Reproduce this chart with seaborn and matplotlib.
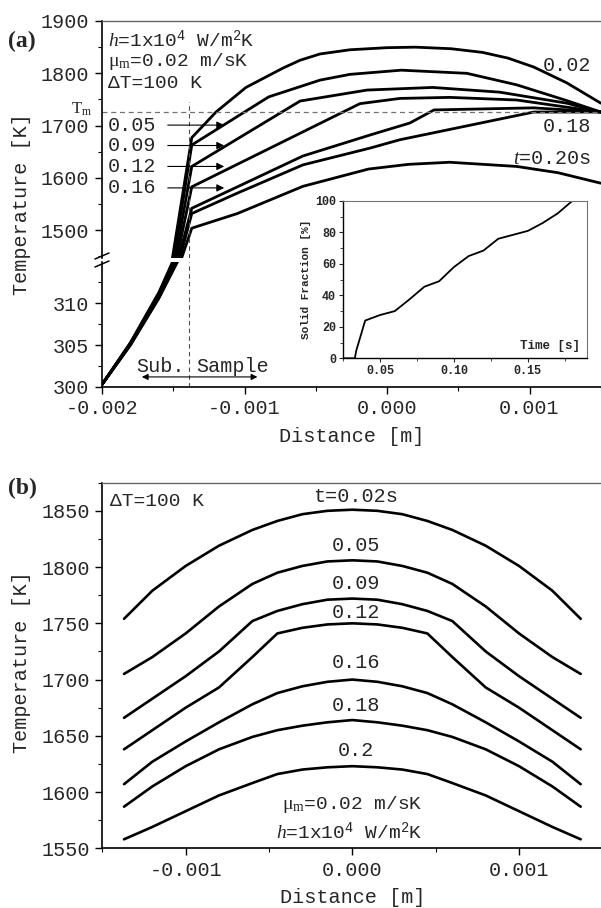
import matplotlib
matplotlib.use("Agg")
import matplotlib.pyplot as plt
from matplotlib.lines import Line2D
from matplotlib.ticker import MultipleLocator, FormatStrFormatter
import seaborn as sns

# ---------------- panel (a): temperature along the sample ----------------
times_a = ['0.02', '0.05', '0.09', '0.12', '0.16', '0.18', '0.20']

# substrate part (lower section of the broken axis)
sub_x = [-0.002, -0.0018, -0.0016, -0.00145]
sub_T = {
    '0.02': [300.3, 305.3, 311.3, 317.0],
    '0.05': [300.3, 305.25, 311.2, 316.8],
    '0.09': [300.3, 305.2, 311.05, 316.5],
    '0.12': [300.3, 305.15, 310.95, 316.3],
    '0.16': [300.3, 305.1, 310.8, 316.0],
    '0.18': [300.3, 305.05, 310.7, 315.8],
    '0.20': [300.3, 305.0, 310.6, 315.6],
}

# sample part (upper section)
samp_x = {
    '0.02': [-0.00151, -0.00137, -0.0012, -0.00099, -0.00073, -0.00061, -0.00047,
             -0.00026, 0.0, 0.0002, 0.00045, 0.00067, 0.00085, 0.00103, 0.00126, 0.0015],
    '0.05': [-0.0015, -0.00137, -0.00083, -0.00047, -0.00026, 0.0001, 0.00056,
             0.00091, 0.00126, 0.0015],
    '0.09': [-0.00149, -0.00137, -0.00061, -0.00014, 0.00032, 0.00079, 0.00126, 0.0015],
    '0.12': [-0.00148, -0.00137, -0.00019, 0.00009, 0.00044, 0.00091, 0.0015],
    '0.16': [-0.00147, -0.00137, -0.00105, -0.00059, -0.00012, 0.00016, 0.00033,
             0.00103, 0.0015],
    '0.18': [-0.00146, -0.00137, -0.00105, -0.00059, -0.00012, 0.00009, 0.00103, 0.0015],
    '0.20': [-0.00145, -0.00137, -0.00105, -0.00059, -0.00013, 0.00015, 0.00044,
             0.00091, 0.0012, 0.0015],
}
samp_T = {
    '0.02': [1440, 1677, 1726, 1773, 1810, 1825, 1837, 1845, 1849, 1850, 1847, 1840,
             1829, 1812, 1782, 1743],
    '0.05': [1440, 1663, 1755, 1787, 1798, 1806, 1800, 1778, 1748, 1726],
    '0.09': [1440, 1622, 1747, 1768, 1773, 1764, 1743, 1726],
    '0.12': [1440, 1583, 1742, 1752, 1754, 1749, 1726],
    '0.16': [1440, 1542, 1583, 1642, 1682, 1705, 1730, 1734, 1726],
    '0.18': [1440, 1532, 1571, 1625, 1657, 1673, 1726, 1726],
    '0.20': [1440, 1504, 1532, 1584, 1617, 1626, 1630, 1622, 1610, 1590],
}

# inset: solid fraction vs time
sf_time = [0.025, 0.033, 0.034, 0.04, 0.05, 0.06, 0.07, 0.08, 0.09, 0.10,
           0.11, 0.12, 0.13, 0.14, 0.15, 0.16, 0.17, 0.18]
sf_val = [0, 0, 5, 24, 27.5, 30, 37.5, 45.5, 49, 58, 65, 68.5, 76, 78.5, 81, 86, 92, 100]
sf_xticks = [0.05, 0.10, 0.15]
sf_xlabels = ['0.05', '0.10', '0.15']
sf_yticks = [0, 20, 40, 60, 80, 100]
sf_ylabels = ['0', '20', '40', '60', '80', '100']

# ---------------- panel (b): symmetric profiles ----------------
labels_b = ['t=0.02s', '0.05', '0.09', '0.12', '0.16', '0.18', '0.2']
dist_b = [-0.00137, -0.0012, -0.001, -0.0008, -0.0006, -0.00045, -0.0003, -0.00015, 0.0,
          0.00015, 0.0003, 0.00045, 0.0006, 0.0008, 0.001, 0.0012, 0.00137]
temp_b = [
    [1754, 1779, 1801, 1819, 1833, 1841, 1847, 1850, 1851, 1850, 1847, 1841, 1833, 1819, 1801, 1779, 1754],
    [1705, 1720, 1741, 1765, 1785, 1795, 1801, 1805, 1806, 1805, 1801, 1795, 1785, 1765, 1741, 1720, 1705],
    [1666, 1683, 1703, 1725, 1752, 1761, 1767, 1771, 1772, 1771, 1767, 1761, 1752, 1725, 1703, 1683, 1666],
    [1638, 1655, 1675, 1693, 1720, 1741, 1746, 1749, 1750, 1749, 1746, 1741, 1720, 1693, 1675, 1655, 1638],
    [1607, 1627, 1645, 1662, 1678, 1688, 1694, 1698, 1700, 1698, 1694, 1688, 1678, 1662, 1645, 1627, 1607],
    [1587, 1605, 1623, 1638, 1649, 1655, 1659, 1662, 1664, 1662, 1659, 1655, 1649, 1638, 1623, 1605, 1587],
    [1558, 1569, 1583, 1597, 1608, 1616, 1620, 1622, 1623, 1622, 1620, 1616, 1608, 1597, 1583, 1569, 1558],
]

sns.set_style("ticks")
plt.rcParams.update({
    'font.family': ['Liberation Mono', 'DejaVu Sans'],
    'font.size': 14.5,
    'axes.unicode_minus': False,
    'mathtext.fontset': 'custom',
    'mathtext.rm': 'Liberation Mono',
    'mathtext.it': 'Liberation Serif:italic',
    'mathtext.sf': 'Liberation Serif',
    'mathtext.bf': 'Liberation Mono:bold',
    'xtick.labelsize': 14.5,
    'ytick.labelsize': 14.5,
})

fig = plt.figure(figsize=(6.01, 9.08), dpi=100)
W, H = 601.0, 908.0


def frame(ax, top=True, bottom=True):
    ax.set_facecolor('none')
    ax.spines['right'].set_visible(False)
    ax.spines['top'].set_visible(top)
    ax.spines['top'].set_color('0.4')
    ax.spines['top'].set_linewidth(1.0)
    ax.spines['bottom'].set_visible(bottom)
    for s in ('left', 'bottom'):
        ax.spines[s].set_color('black')
        ax.spines[s].set_linewidth(1.2)
    ax.tick_params(which='major', direction='out', length=5, width=1, pad=4, color='black')
    ax.tick_params(which='minor', direction='out', length=3, width=0.8, color='black')
    ax.tick_params(axis='both', which='both', top=False, right=False)


lw = 2.0

# ---- panel (a) upper section
ax_up = fig.add_axes([102 / W, 1 - 258 / H, 498.75 / W, 237 / H])
frame(ax_up, top=True, bottom=False)
for t in times_a:
    sns.lineplot(x=samp_x[t], y=samp_T[t], ax=ax_up, color='black', linewidth=lw,
                 estimator=None, sort=False)
ax_up.set_xlim(-0.002, 0.0015)
ax_up.set_ylim(1447, 1900)
ax_up.yaxis.set_major_locator(MultipleLocator(100))
ax_up.yaxis.set_minor_locator(MultipleLocator(50))
ax_up.tick_params(axis='x', which='both', bottom=False, labelbottom=False)
ax_up.set_xlabel('')
ax_up.set_ylabel('')
ax_up.axhline(1726, color='0.45', lw=0.9, ls=(0, (4, 3)))
ax_up.plot([-0.00139, -0.00139], [1447, 1745], color='0.3', lw=0.8, ls=(0, (4, 3)))
ax_up.text(-0.00207, 1732, r'$\mathsf{T_m}$', ha='right', va='center', fontsize=12)

ax_up.text(-0.001958, 1864, r'$h$=1x10$^4$ W/m$^2$K', va='center', fontsize=14)
ax_up.text(-0.001958, 1822, r'$\mathsf{\mu_m}$=0.02 m/sK', va='center', fontsize=14)
ax_up.text(-0.001958, 1781, 'ΔT=100 K', va='center', fontsize=14)

for lab, T in zip(['0.05', '0.09', '0.12', '0.16'], [1701, 1662, 1622, 1581]):
    ax_up.text(-0.001958, T, lab, va='center', fontsize=14.5)
    ax_up.annotate('', xy=(-0.001123, T), xytext=(-0.001558, T),
                   arrowprops=dict(arrowstyle='-|>', color='black', lw=0.8,
                                   mutation_scale=11))
ax_up.text(0.00109, 1814, '0.02', va='center', fontsize=14.5)
ax_up.text(0.00109, 1699, '0.18', va='center', fontsize=14.5)
ax_up.text(0.000884, 1638, r'$t$=0.20s', va='center', fontsize=14.5)

# ---- panel (a) lower section
ax_lo = fig.add_axes([102 / W, 1 - 387 / H, 498.75 / W, 125 / H])
frame(ax_lo, top=False, bottom=True)
for t in times_a:
    sns.lineplot(x=sub_x, y=sub_T[t], ax=ax_lo, color='black', linewidth=lw,
                 estimator=None, sort=False)
ax_lo.set_xlim(-0.002, 0.0015)
ax_lo.set_ylim(300, 314.9)
ax_lo.yaxis.set_major_locator(MultipleLocator(5))
ax_lo.yaxis.set_minor_locator(MultipleLocator(2.5))
ax_lo.xaxis.set_major_locator(MultipleLocator(0.001))
ax_lo.xaxis.set_minor_locator(MultipleLocator(0.0005))
ax_lo.xaxis.set_major_formatter(FormatStrFormatter('%.3f'))
ax_lo.set_ylabel('')
ax_lo.set_xlabel('Distance [m]', fontsize=14.5, labelpad=6)
ax_lo.axvline(-0.00139, color='0.3', lw=0.8, ls=(0, (4, 3)))
ax_lo.text(-0.00142, 302.4, 'Sub.', ha='right', va='center', fontsize=14.5)
ax_lo.text(-0.00134, 302.4, 'Sample', ha='left', va='center', fontsize=14.5)
ax_lo.annotate('', xy=(-0.00174, 301.2), xytext=(-0.00089, 301.2),
               arrowprops=dict(arrowstyle='<|-|>', color='black', lw=0.8,
                               mutation_scale=9))

# break marks on the y axis
for yc in (256, 264):
    fig.add_artist(Line2D([95 / W, 109 / W], [1 - (yc + 3) / H, 1 - (yc - 3) / H],
                          transform=fig.transFigure, color='black', lw=1.1))

fig.text(22 / W, 1 - 204 / H, 'Temperature [K]', rotation=90, ha='center', va='center',
         fontsize=14.5)
fig.text(8 / W, 1 - 41 / H, '(a)', family='Liberation Serif', fontweight='bold',
         fontsize=17, va='center')

# ---- inset
ax_in = fig.add_axes([343 / W, 1 - 358.3 / H, 244 / W, 157.3 / H])
ax_in.set_facecolor('white')
sns.lineplot(x=sf_time, y=sf_val, ax=ax_in, color='black', linewidth=1.3,
             estimator=None, sort=False)
ax_in.set_xlim(0.025, 0.19)
ax_in.set_ylim(0, 100)
ax_in.set_xticks(sf_xticks, sf_xlabels, fontsize=8.5, fontweight='bold')
ax_in.set_yticks(sf_yticks, sf_ylabels, fontsize=8.5, fontweight='bold')
ax_in.xaxis.set_minor_locator(MultipleLocator(0.025))
ax_in.yaxis.set_minor_locator(MultipleLocator(10))
for s in ('left', 'bottom'):
    ax_in.spines[s].set_color('black')
    ax_in.spines[s].set_linewidth(1.0)
for s in ('top', 'right'):
    ax_in.spines[s].set_visible(True)
    ax_in.spines[s].set_color('0.45')
    ax_in.spines[s].set_linewidth(0.8)
ax_in.tick_params(which='major', direction='out', length=3, width=0.8, pad=2)
ax_in.tick_params(which='minor', direction='out', length=2, width=0.6)
ax_in.tick_params(axis='both', which='both', top=False, right=False)
ax_in.set_xlabel('')
ax_in.set_ylabel('Solid Fraction [%]', fontsize=8, fontweight='bold', labelpad=3)
ax_in.text(0.97, 0.04, 'Time [s]', transform=ax_in.transAxes, ha='right', va='bottom',
           fontsize=9, fontweight='bold')

# ---- panel (b)
ax_b = fig.add_axes([102.35 / W, 1 - 848.3 / H, 500 / W, 365.6 / H])
frame(ax_b, top=True, bottom=True)
for temps in temp_b:
    sns.lineplot(x=dist_b, y=temps, ax=ax_b, color='black', linewidth=1.9,
                 estimator=None, sort=False)
ax_b.set_xlim(-0.0015, 0.0015)
ax_b.set_ylim(1550, 1875)
ax_b.yaxis.set_major_locator(MultipleLocator(50))
ax_b.yaxis.set_minor_locator(MultipleLocator(25))
ax_b.xaxis.set_major_locator(MultipleLocator(0.001))
ax_b.xaxis.set_minor_locator(MultipleLocator(0.0005))
ax_b.xaxis.set_major_formatter(FormatStrFormatter('%.3f'))
ax_b.set_ylabel('')
ax_b.set_xlabel('Distance [m]', fontsize=14.5, labelpad=6)
for lab, T in zip(labels_b, [1863, 1819, 1785, 1760, 1715, 1677, 1637]):
    ax_b.text(0.00002, T, lab, ha='center', va='center', fontsize=14.5)
ax_b.text(-0.001454, 1858, 'ΔT=100 K', va='center', fontsize=14)
ax_b.text(-0.000422, 1589, r'$\mathsf{\mu_m}$=0.02 m/sK', va='center', fontsize=14)
ax_b.text(-0.000458, 1565, r'$h$=1x10$^4$ W/m$^2$K', va='center', fontsize=14)

fig.text(22 / W, 1 - 662 / H, 'Temperature [K]', rotation=90, ha='center', va='center',
         fontsize=14.5)
fig.text(8 / W, 1 - 488 / H, '(b)', family='Liberation Serif', fontweight='bold',
         fontsize=17, va='center')

fig.savefig('out.png', dpi=100)
